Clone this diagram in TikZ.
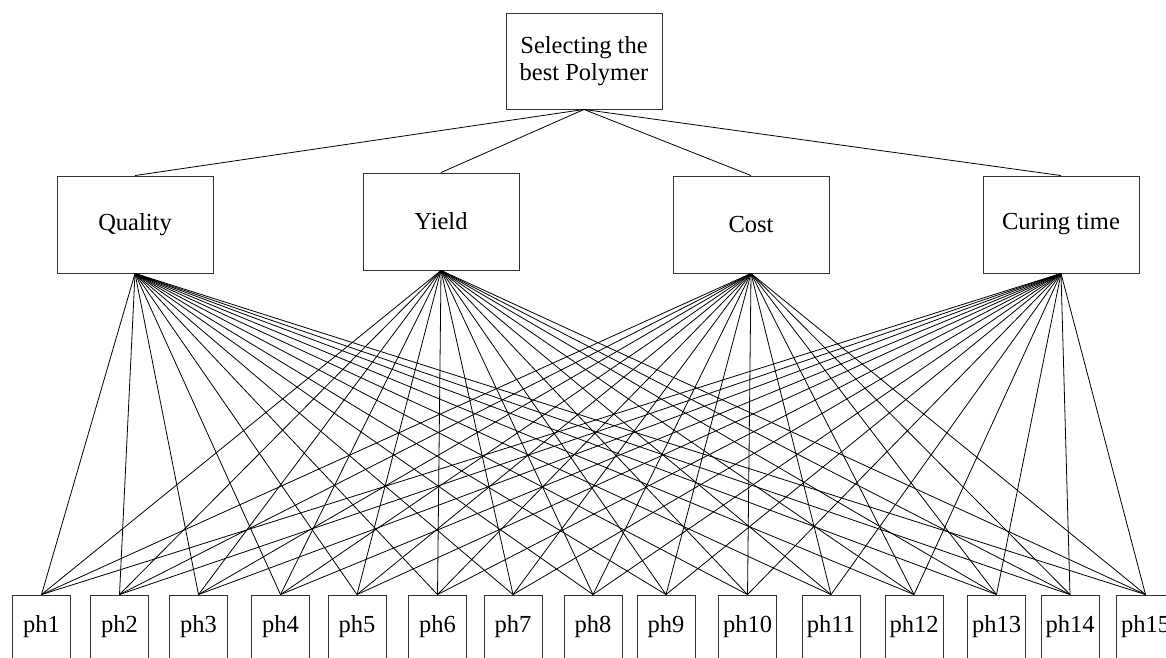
\documentclass[tikz,border=0pt]{standalone}
\usepackage{fontspec}
\setmainfont{Liberation Serif}
\begin{document}
\begin{tikzpicture}[x=1pt,y=-1pt,
  box/.style={draw=black!80,line width=0.9pt,inner sep=0pt,align=center,font=\fontsize{24.5}{27}\selectfont},
  crit/.style={box,minimum width=156pt,minimum height=97pt},
  alt/.style={box,minimum width=58pt,minimum height=64pt},
  link/.style={draw=black,line width=0.8pt}]
\useasboundingbox (0,0) rectangle (1166,657);
\node[box,minimum width=156pt,minimum height=96pt] (goal) at (584,61) {Selecting the\\best Polymer};
\node[crit] (c1) at (135,224.5) {Quality};
\node[crit] (c2) at (441,221.5) {Yield};
\node[crit] (c3) at (751,224.5) {Cost};
\node[crit] (c4) at (1061,224.5) {Curing time};
\foreach \i/\x in {1/41.5,2/119.5,3/198.5,4/280.5,5/357,6/437.5,7/513,8/593,9/666,10/747.5,11/831,12/914,13/996.5,14/1070,15/1145.5}
  \node[alt] (p\i) at (\x,627) {ph\i};
\foreach \c in {1,...,4}
  \draw[link] (goal.south) -- (c\c.north);
\foreach \c in {1,...,4}
  \foreach \i in {1,...,15}
    \draw[link] (c\c.south) -- (p\i.north);
\end{tikzpicture}
\end{document}
